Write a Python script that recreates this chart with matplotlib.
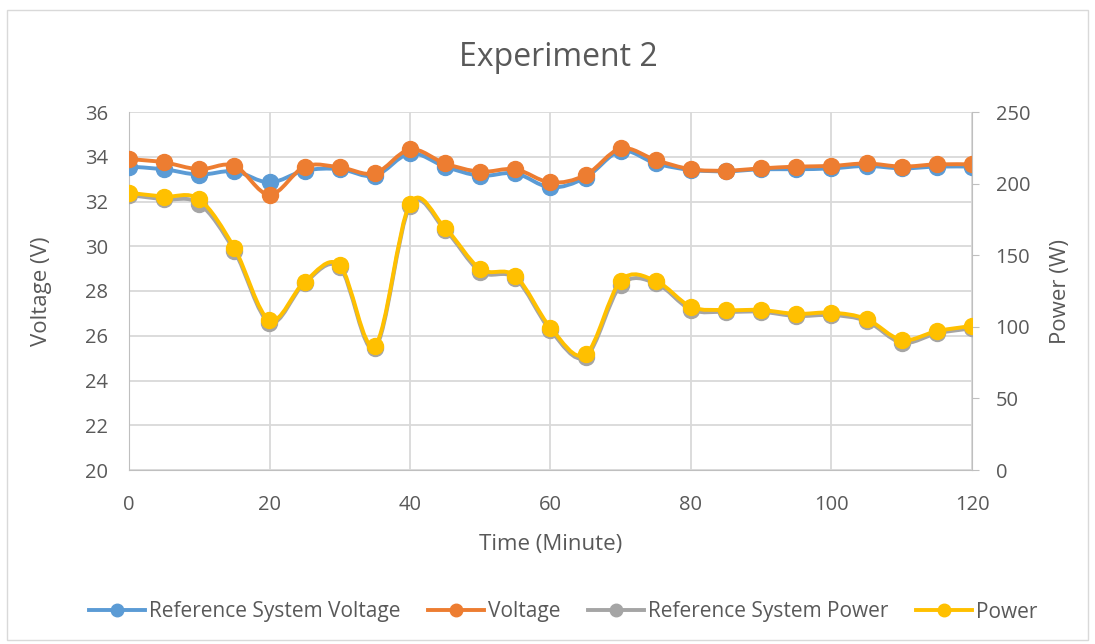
import numpy as np
import matplotlib.pyplot as plt
from matplotlib.path import Path
from matplotlib.patches import PathPatch
from matplotlib.lines import Line2D

plt.rcParams['font.family'] = ['Open Sans', 'DejaVu Sans']

# Time (minute)
time = [0, 5, 10, 15, 20, 25, 30, 35, 40, 45, 50, 55, 60,
        65, 70, 75, 80, 85, 90, 95, 100, 105, 110, 115, 120]

ref_voltage = [33.56, 33.44, 33.2, 33.35, 32.85, 33.38, 33.45, 33.15, 34.15, 33.56,
               33.15, 33.26, 32.63, 33.07, 34.26, 33.7, 33.41, 33.35, 33.44, 33.44,
               33.48, 33.59, 33.48, 33.56, 33.56]
voltage = [33.9, 33.75, 33.44, 33.6, 32.3, 33.56, 33.53, 33.26, 34.33, 33.7,
           33.33, 33.44, 32.85, 33.18, 34.37, 33.85, 33.44, 33.38, 33.48, 33.56,
           33.59, 33.7, 33.56, 33.66, 33.66]
ref_power = [192, 189, 186, 153, 103, 130.5, 141.5, 85, 184.4, 167.6,
             138.5, 133.9, 97.5, 79, 129, 130.4, 112, 110.5, 110.5, 107.5,
             108.2, 104, 88.9, 95.4, 99]
power = [193.6, 190.9, 189, 155, 104.7, 131.5, 143, 86.8, 186, 169,
         140.4, 135.5, 99.4, 80.8, 132.2, 132, 114, 111.7, 111.7, 109,
         109.9, 105.4, 90.8, 97, 100.6]


def smooth_path(x, y):
    # bezier curve through the points, like excel's "smoothed line"
    x = np.asarray(x, float)
    y = np.asarray(y, float)
    verts = [(x[0], y[0])]
    codes = [Path.MOVETO]
    n = len(x)
    for i in range(n - 1):
        x0, y0 = (x[i - 1], y[i - 1]) if i > 0 else (x[i], y[i])
        x3, y3 = (x[i + 2], y[i + 2]) if i + 2 < n else (x[i + 1], y[i + 1])
        c1 = (x[i] + (x[i + 1] - x0) / 6, y[i] + (y[i + 1] - y0) / 6)
        c2 = (x[i + 1] - (x3 - x[i]) / 6, y[i + 1] - (y3 - y[i]) / 6)
        verts += [c1, c2, (x[i + 1], y[i + 1])]
        codes += [Path.CURVE4] * 3
    return Path(verts, codes)


def draw_series(ax, x, y, color, z):
    ax.add_patch(PathPatch(smooth_path(x, y), fill=False, edgecolor=color,
                           lw=2.8, zorder=z, capstyle='round', joinstyle='round'))
    ax.plot(x, y, ls='none', marker='o', ms=11.5, color=color, zorder=z + 0.5)


fig = plt.figure(figsize=(10.95, 6.44), dpi=100)
fig.patch.set_facecolor('white')
fig.add_artist(plt.Rectangle((0.006, 0.006), 0.988, 0.978, transform=fig.transFigure,
                             fill=False, edgecolor='#d9d9d9', lw=1))

ax = fig.add_axes([129 / 1095, 1 - 470 / 644, 843 / 1095, 358 / 644])
ax2 = ax.twinx()

grey = '#595959'
ax.set_xlim(0, 120)
ax.set_ylim(20, 36)
ax.set_xticks(range(0, 121, 20))
ax.set_yticks(range(20, 37, 2))
ax.grid(True, color='#d9d9d9', lw=1.3)
ax.set_axisbelow(True)
ax2.set_ylim(0, 250)
ax2.set_yticks(range(0, 251, 50))

for a in (ax, ax2):
    for s in a.spines.values():
        s.set_visible(False)
    a.tick_params(labelsize=14.5, colors=grey, length=0)
ax.tick_params(axis='x', pad=18)
ax.tick_params(axis='y', pad=15)
ax.spines['left'].set_visible(True)
ax.spines['bottom'].set_visible(True)
ax.spines['left'].set_color('#bfbfbf')
ax.spines['bottom'].set_color('#bfbfbf')
ax2.spines['right'].set_visible(True)
ax2.spines['right'].set_color('#bfbfbf')
ax2.tick_params(axis='y', length=5, color='#bfbfbf', pad=12)

draw_series(ax, time, ref_voltage, '#5b9bd5', 3)
draw_series(ax, time, voltage, '#ed7d31', 4)
draw_series(ax2, time, ref_power, '#a5a5a5', 3)
draw_series(ax2, time, power, '#ffc000', 4)

ax.set_xlabel('Time (Minute)', fontsize=16, color=grey, labelpad=14)
ax.set_ylabel('Voltage (V)', fontsize=16, color=grey, labelpad=24)
ax2.set_ylabel('Power (W)', fontsize=16, color=grey, labelpad=14, rotation=90)
fig.text(558 / 1095, 1 - 57 / 644, 'Experiment 2', ha='center', va='center',
         fontsize=23, color=grey)

names = ['Reference System Voltage', 'Voltage', 'Reference System Power', 'Power']
colors = ['#5b9bd5', '#ed7d31', '#a5a5a5', '#ffc000']
handles = [Line2D([], [], color=c, lw=2.8, marker='o', ms=9) for c in colors]
leg = fig.legend(handles, names, loc='center', bbox_to_anchor=(563 / 1095, 1 - 612 / 644),
                 ncol=4, frameon=False, fontsize=15, handlelength=2.7,
                 handletextpad=0.2, columnspacing=1.3)
for t in leg.get_texts():
    t.set_color(grey)

fig.savefig('out.png', dpi=100)
